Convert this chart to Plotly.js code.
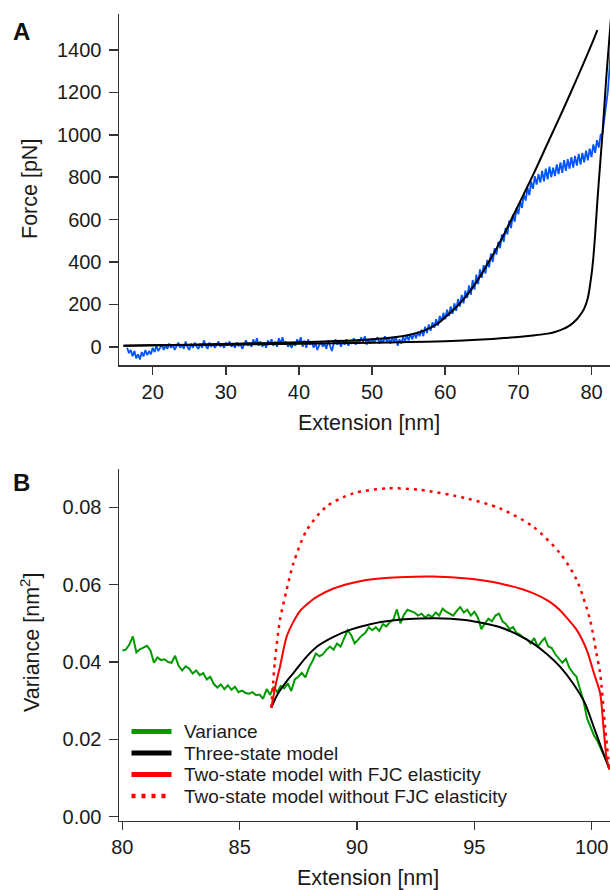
<!DOCTYPE html>
<html><head><meta charset="utf-8">
<script src="https://cdn.plot.ly/plotly-3.0.1.min.js"></script>
<style>html,body{margin:0;padding:0;background:#fff}</style>
</head><body><div id="chart" style="width:610px;height:890px"></div>
<script>
// ---------- Panel A data ----------
const blueExt = [16.5,16.75,
17,17.25,17.5,17.75,18,18.25,18.5,18.75,19,19.25,19.5,19.75,20,20.25,20.5,20.75,
21,21.25,21.5,21.75,22,22.25,22.5,22.75,23,23.25,23.5,23.75,24,24.25,24.5,24.75,
25,25.25,25.5,25.75,26,26.25,26.5,26.75,27,27.25,27.5,27.75,28,28.25,28.5,28.75,
29,29.25,29.5,29.75,30,30.25,30.5,30.75,31,31.25,31.5,31.75,32,32.25,32.5,32.75,
33,33.25,33.5,33.75,34,34.25,34.5,34.75,35,35.25,35.5,35.75,36,36.25,36.5,36.75,
37,37.25,37.5,37.75,38,38.25,38.5,38.75,39,39.25,39.5,39.75,40,40.25,40.5,40.75,
41,41.25,41.5,41.75,42,42.25,42.5,42.75,43,43.25,43.5,43.75,44,44.25,44.5,44.75,
45,45.25,45.5,45.75,46,46.25,46.5,46.75,47,47.25,47.5,47.75,48,48.25,48.5,48.75,
49,49.25,49.5,49.75,50,50.25,50.5,50.75,51,51.25,51.5,51.75,52,52.25,52.5,52.75,
53,53.25,53.5,53.75,54,54.25,54.5,54.75,55,55.25,55.5,55.75,56,56.25,56.5,56.75,
57,57.25,57.5,57.75,58,58.25,58.5,58.75,59,59.25,59.5,59.75,60,60.25,60.5,60.75,
61,61.25,61.5,61.75,62,62.25,62.5,62.75,63,63.25,63.5,63.75,64,64.25,64.5,64.75,
65,65.25,65.5,65.75,66,66.25,66.5,66.75,67,67.25,67.5,67.75,68,68.25,68.5,68.75,
69,69.25,69.5,69.75,70,70.25,70.5,70.75,71,71.25,71.5,71.75,72,72.25,72.5,72.75,
73,73.25,73.5,73.75,74,74.25,74.5,74.75,75,75.25,75.5,75.75,76,76.25,76.5,76.75,
77,77.25,77.5,77.75,78,78.25,78.5,78.75,79,79.25,79.5,79.75,80,80.25,80.5,80.75,
81,81.25,81.5,81.75,82,82.25,82.5,82.75];
const blueForce = [-5,-30,
-15,-45,-20,-55, -35,-60,-25,-45, -15,-40,-20,-35, -5,-25,5,-20,
-5,10,-15,5, -10,15,-5,10, -15,0,20,-5, 10,-10,25,0,
-15,15,-5,20, 0,-10,15,-5, 30,5,-10,20, 0,15,-5,10,
25,0,15,-5, 20,5,25,0, 10,-5,20,5, 15,-10,10,30,
5,20,0,35, 10,40,5,25, 0,20,-5,30, 10,35,5,25,
0,40,15,45, 10,25,0,15, -5,20,5,35, 15,45,0,30,
-5,35,10,25, -5,20,-15,10, 25,0,15,-10, 30,5,-20,15,
35,10,25,0, 30,10,35,5, 25,15,40,10, 30,15,45,20,
50,10,35,15, 40,20,30,45, 15,35,20,50, 25,40,15,45,
20,50,5,35, 15,45,25,55, 30,60,35,65, 40,70,50,80,
50,95,65,105, 75,115,90,130, 100,145,120,160, 130,175,145,190,
155,205,170,225, 190,245,205,265, 230,290,245,315, 270,340,295,365,
325,385,345,410, 375,440,400,465, 435,495,465,530, 495,560,530,595,
560,625,590,655, 625,685,655,720, 690,750,715,780, 745,805,765,815,
775,830,780,840, 790,850,800,845, 805,860,815,870, 820,880,830,885,
840,895,845,900, 855,910,860,915, 870,925,880,935, 895,955,915,975,
940,1000,1005,1070, 1120,1210,1330,1500];

const fit1Ext = [16,20,25,30,35,40,45,50,53,55,57,59,60,61,62,63,64,65,66,67,68,70,72,74,76,78,80,80.8];
const fit1Force = [5,7,10,13,17,21,27,36,45,56,75,110,140,170,205,245,292,345,403,463,528,668,810,960,1110,1265,1425,1494];

const fit2Ext = [16,20,30,40,50,55,60,65,68,70,72,74,75,76,77,78,78.5,79,79.5,80,80.25,80.5,80.75,81,81.5,82,82.5,83];
const fit2Force = [5,7,10,14,19,22,26,34,41,46,53,62,70,82,100,130,152,180,230,340,420,530,660,780,1005,1260,1480,1700];

// ---------- Panel B data ----------
const varExt = [80.0,80.15,80.3,80.45,80.6,80.75,80.9,81.05,81.2,81.35,81.5,81.65,81.8,81.95,82.1,82.25,82.4,82.55,82.7,82.85,83.0,83.15,83.3,83.45,83.6,83.75,83.9,84.05,84.2,84.35,84.5,84.65,84.8,84.95,85.1,85.25,85.4,85.55,85.7,85.85,86.0,86.15,86.3,86.45,86.6,86.75,86.9,87.05,87.2,87.35,87.5,87.65,87.8,87.95,88.1,88.25,88.4,88.55,88.7,88.85,89.0,89.15,89.3,89.45,89.6,89.75,89.9,90.05,90.2,90.35,90.5,90.65,90.8,90.95,91.1,91.25,91.4,91.55,91.7,91.85,92.0,92.15,92.3,92.45,92.6,92.75,92.9,93.05,93.2,93.35,93.5,93.65,93.8,93.95,94.1,94.25,94.4,94.55,94.7,94.85,95.0,95.15,95.3,95.45,95.6,95.75,95.9,96.05,96.2,96.35,96.5,96.65,96.8,96.95,97.1,97.25,97.4,97.55,97.7,97.85,98.0,98.15,98.3,98.45,98.6,98.75,98.9,99.05,99.2,99.35,99.5,99.65,99.8,99.95,100.1,100.25,100.4,100.55,100.7,100.85];
const varVal = [0.0430,0.0432,0.0445,0.0466,0.0425,0.0433,0.0437,0.0442,0.0430,0.0398,0.0412,0.0405,0.0407,0.0400,0.0398,0.0416,0.0390,0.0378,0.0389,0.0383,0.0370,0.0378,0.0366,0.0371,0.0355,0.0362,0.0343,0.0334,0.0342,0.0330,0.0340,0.0328,0.0336,0.0322,0.0326,0.0320,0.0318,0.0322,0.0314,0.0316,0.0305,0.0330,0.0315,0.0336,0.0322,0.0338,0.0332,0.0345,0.0325,0.0355,0.0362,0.0372,0.0360,0.0385,0.0402,0.0422,0.0415,0.0420,0.0432,0.0440,0.0432,0.0448,0.0440,0.0462,0.0482,0.0470,0.0448,0.0458,0.0468,0.0475,0.0490,0.0482,0.0490,0.0480,0.0498,0.0492,0.0503,0.0510,0.0536,0.0500,0.0522,0.0535,0.0532,0.0528,0.0520,0.0525,0.0515,0.0522,0.0516,0.0528,0.0520,0.0538,0.0530,0.0525,0.0520,0.0532,0.0542,0.0528,0.0535,0.0520,0.0530,0.0515,0.0485,0.0500,0.0512,0.0505,0.0520,0.0525,0.0505,0.0498,0.0485,0.0490,0.0475,0.0470,0.0462,0.0458,0.0448,0.0462,0.0440,0.0452,0.0462,0.0440,0.0436,0.0420,0.0410,0.0398,0.0408,0.0385,0.0372,0.0362,0.0330,0.0300,0.0255,0.0230,0.0210,0.0195,0.0175,0.0155,0.0135,0.0115];

const threeExt = [86.35,86.6,87.0,87.3,87.8,88.3,89.0,89.7,90.4,91.1,92.2,93.25,94.0,94.7,95.4,96.1,96.8,97.5,98.1,98.65,99.2,99.7,100.1,100.4,100.75];
const threeVal = [0.0282,0.0315,0.0350,0.0372,0.0410,0.0440,0.0465,0.0483,0.0495,0.0504,0.0511,0.0513,0.0512,0.0508,0.0500,0.0490,0.0472,0.0448,0.0420,0.0388,0.0345,0.0295,0.0230,0.0180,0.0123];

const twoFjcExt = [86.35,86.55,86.72,87.0,87.3,87.6,88.0,88.3,89.0,89.7,90.4,91.8,93.25,94.7,96.1,97.5,98.2,98.65,99.0,99.36,99.79,100.1,100.36,100.5,100.64,100.75];
const twoFjcVal = [0.0282,0.0345,0.0388,0.0465,0.0505,0.0534,0.0556,0.0569,0.0590,0.0603,0.0612,0.0619,0.0621,0.0616,0.0603,0.0578,0.0556,0.0534,0.0510,0.0483,0.0431,0.0370,0.0319,0.0233,0.0150,0.0123];

const twoNoFjcExt = [86.35,86.5,86.72,87.0,87.29,87.86,88.7,89.84,91.27,92.69,94.67,96.1,97.5,98.65,99.36,99.93,100.2,100.36,100.57,100.75];
const twoNoFjcVal = [0.0282,0.0400,0.0509,0.0586,0.0655,0.0741,0.0802,0.0836,0.0849,0.0845,0.0823,0.0797,0.0750,0.0681,0.0612,0.0509,0.0423,0.0371,0.0233,0.0123];

const legendNames = ["Variance","Three-state model","Two-state model with FJC elasticity","Two-state model without FJC elasticity"];
const tickA_x = [20,30,40,50,60,70,80];
const tickA_y = [0,200,400,600,800,1000,1200,1400];
const tickB_x = [80,85,90,95,100];
const tickB_y = [0,0.02,0.04,0.06,0.08];

// ---------- styles ----------
const W = 610, H = 890;
const px = v => v / W, py = v => 1 - v / H;
const FONT = 'Liberation Sans, Arial, Helvetica, sans-serif';
const AX = '#333333';
const TXT = '#1a1a1a';
const GREEN = '#009a00', RED = '#ff0000', BLUE = '#0055ff';

const traces = [
  {x: blueExt, y: blueForce, xaxis:'x', yaxis:'y', mode:'lines', line:{color:BLUE, width:1.8}, showlegend:false},
  {x: fit1Ext, y: fit1Force, xaxis:'x', yaxis:'y', mode:'lines', line:{color:'#000', width:2, shape:'spline', smoothing:0.8}, showlegend:false},
  {x: fit2Ext, y: fit2Force, xaxis:'x', yaxis:'y', mode:'lines', line:{color:'#000', width:2, shape:'spline', smoothing:0.6}, showlegend:false},
  {x: varExt, y: varVal, xaxis:'x2', yaxis:'y2', mode:'lines', line:{color:GREEN, width:2}, name:legendNames[0], showlegend:false},
  {x: threeExt, y: threeVal, xaxis:'x2', yaxis:'y2', mode:'lines', line:{color:'#000', width:2, shape:'spline', smoothing:0.8}, name:legendNames[1], showlegend:false},
  {x: twoFjcExt, y: twoFjcVal, xaxis:'x2', yaxis:'y2', mode:'lines', line:{color:RED, width:2, shape:'spline', smoothing:0.8}, name:legendNames[2], showlegend:false},
  {x: twoNoFjcExt, y: twoNoFjcVal, xaxis:'x2', yaxis:'y2', mode:'lines', line:{color:RED, width:2.5, dash:'3px,5px', shape:'spline', smoothing:0.8}, name:legendNames[3], showlegend:false}
];

const axBase = {
  showline:true, linecolor:AX, linewidth:1.5, ticks:'outside', tickcolor:AX, tickwidth:1.5,
  showgrid:false, zeroline:false, mirror:false, tickmode:'array',
  tickfont:{family:FONT, size:20, color:TXT}
};

// manual legend
const legRows = [731.5, 753, 774.5, 796];
const legColors = [GREEN, '#000', RED, RED];
const shapes = legRows.map((r, i) => ({
  type:'line', xref:'paper', yref:'paper', x0:px(131.5), x1:px(171.5), y0:py(r), y1:py(r),
  line:{color:legColors[i], width: i===3 ? 4.5 : 5, dash: i===3 ? '4px,6px' : 'solid'}
}));
const annotations = legRows.map((r, i) => ({
  text: legendNames[i], xref:'paper', yref:'paper', x:px(181.5), y:py(r), xanchor:'left', yanchor:'middle',
  showarrow:false, font:{family:FONT, size:19, color:TXT}
}));
annotations.push(
  {text:'A', xref:'paper', yref:'paper', x:px(21), y:py(31), xanchor:'center', yanchor:'middle', showarrow:false, font:{family:FONT, size:24, weight:'bold', color:'#111'}},
  {text:'B', xref:'paper', yref:'paper', x:px(21), y:py(482), xanchor:'center', yanchor:'middle', showarrow:false, font:{family:FONT, size:24, weight:'bold', color:'#111'}},
  {text:'Force [pN]', xref:'paper', yref:'paper', x:px(30), y:py(189), textangle:-90, xanchor:'center', yanchor:'middle', showarrow:false, font:{family:FONT, size:21.5, color:TXT}},
  {text:'Extension [nm]', xref:'paper', yref:'paper', x:px(369), y:py(423), xanchor:'center', yanchor:'middle', showarrow:false, font:{family:FONT, size:21.5, color:TXT}},
  {text:'Variance [nm<sup>2</sup>]', xref:'paper', yref:'paper', x:px(30), y:py(643), textangle:-90, xanchor:'center', yanchor:'middle', showarrow:false, font:{family:FONT, size:21.5, color:TXT}},
  {text:'Extension [nm]', xref:'paper', yref:'paper', x:px(368), y:py(878), xanchor:'center', yanchor:'middle', showarrow:false, font:{family:FONT, size:21.5, color:TXT}}
);

const layout = {
  width:W, height:H, margin:{l:0, r:0, t:0, b:0}, paper_bgcolor:'#fff', plot_bgcolor:'#fff',
  showlegend:false, hovermode:false,
  xaxis: Object.assign({}, axBase, {domain:[px(119),1], range:[15.39,82.53], anchor:'y', tickvals:tickA_x, ticklen:8}),
  yaxis: Object.assign({}, axBase, {domain:[py(365),py(14)], range:[-86,1570], anchor:'x', tickvals:tickA_y, ticklen:9, ticklabelstandoff:3}),
  xaxis2: Object.assign({}, axBase, {domain:[px(119),1], range:[79.86,100.78], anchor:'y2', tickvals:tickB_x, ticklen:8}),
  yaxis2: Object.assign({}, axBase, {domain:[py(820.7),py(469)], range:[-0.00103,0.0899], anchor:'x2', tickvals:tickB_y, ticktext:tickB_y.map(v=>v.toFixed(2)), ticklen:9, ticklabelstandoff:3}),
  shapes: shapes,
  annotations: annotations
};

Plotly.newPlot('chart', traces, layout, {staticPlot:true, displayModeBar:false});
</script></body></html>
